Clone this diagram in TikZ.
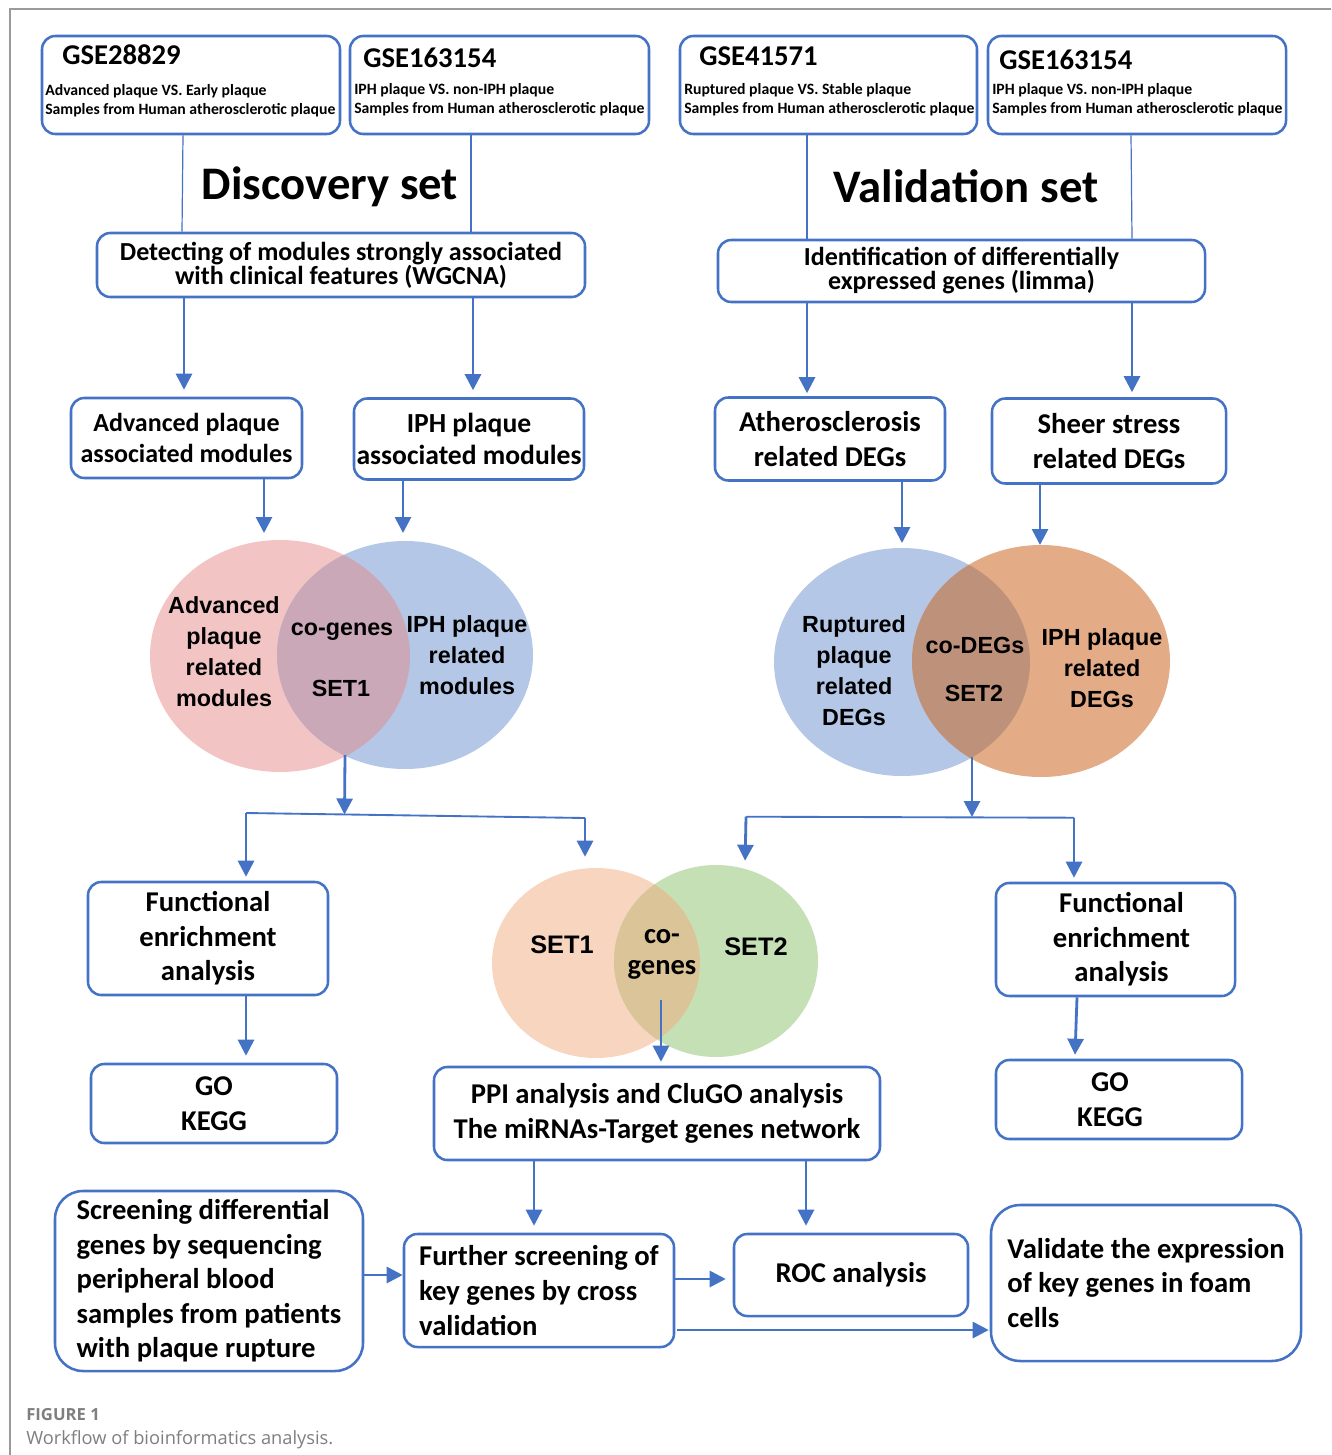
\documentclass[tikz,border=0pt]{standalone}
\usepackage{fontspec}
\setmainfont{Carlito}
\newfontfamily\arialf{Liberation Sans}
\newfontfamily\capf{Open Sans}
\usetikzlibrary{shapes.geometric,arrows.meta,calc}
\newdimen\px \px=0.75pt
\definecolor{bl}{HTML}{4472C4}
\definecolor{framec}{HTML}{9A9A9A}
\definecolor{pinkc}{HTML}{F2C4C4}
\definecolor{bluec}{HTML}{B4C7E7}
\definecolor{ovA}{HTML}{CBA8B7}
\definecolor{orangec}{HTML}{E3AB86}
\definecolor{ovB}{HTML}{BE917B}
\definecolor{peachc}{HTML}{F8D5BF}
\definecolor{greenc}{HTML}{C5E0B4}
\definecolor{ovC}{HTML}{DBC497}
\definecolor{capc}{HTML}{7F7F7F}
\begin{document}
\begin{tikzpicture}[x=0.75pt,y=-0.75pt,
  box/.style={draw=bl, line width=1.9pt, rounded corners=10pt, inner sep=0pt, align=center, fill=white},
  fA/.style={font=\bfseries\fontsize{21.5}{25.9}\selectfont},
  fB/.style={font=\bfseries\fontsize{19.5}{18}\selectfont},
  fC/.style={font=\bfseries\fontsize{19.5}{23.3}\selectfont},
  fGse/.style={font=\bfseries\fontsize{21.5}{24}\selectfont, inner sep=0pt},
  fSm/.style={font=\bfseries\fontsize{11.8}{14}\selectfont, inner sep=0pt},
  fV/.style={font=\arialf\bfseries\fontsize{17.5}{23.3}\selectfont, align=center, inner sep=0pt},
  venn/.style={ellipse, inner sep=0pt},
  arr/.style={draw=bl, line width=2.1pt, -{Triangle[length=12pt,width=12pt]}},
  thinl/.style={draw=bl, line width=0.9pt},
  midl/.style={draw=bl, line width=1.4pt}]
\useasboundingbox (0,0) rectangle (1331,1455);
\fill[white] (0,0) rectangle (1331,1455);
% frame
\draw[framec, line width=1.1pt] (10,1455) -- (10,9) -- (1331,9);

% ---------- top dataset boxes ----------
\node[box, minimum width=298\px, minimum height=98\px] (gse1) at (191,85) {};
\node[box, minimum width=299\px, minimum height=98\px] (gse2) at (499.5,85) {};
\node[box, minimum width=297\px, minimum height=98\px] (gse3) at (828.5,85) {};
\node[box, minimum width=298\px, minimum height=98\px] (gse4) at (1137,85) {};

\node[fGse, anchor=base west] (t1) at (62,65) {GSE28829};
\node[fSm, anchor=base west] (t1a) at (45,96) {Advanced plaque VS. Early plaque};
\node[fSm, anchor=base west] (t1b) at (45,115) {Samples from Human atherosclerotic plaque};
\node[fGse, anchor=base west] (t2) at (363,68) {GSE163154};
\node[fSm, anchor=base west] (t2a) at (354,95) {IPH plaque VS. non-IPH plaque};
\node[fSm, anchor=base west] (t2b) at (354,114) {Samples from Human atherosclerotic plaque};
\node[fGse, anchor=base west] (t3) at (699,66) {GSE41571};
\node[fSm, anchor=base west] (t3a) at (684,95) {Ruptured plaque VS. Stable plaque};
\node[fSm, anchor=base west] (t3b) at (684,114) {Samples from Human atherosclerotic plaque};
\node[fGse, anchor=base west] (t4) at (999,70) {GSE163154};
\node[fSm, anchor=base west] (t4a) at (992,95) {IPH plaque VS. non-IPH plaque};
\node[fSm, anchor=base west] (t4b) at (992,114) {Samples from Human atherosclerotic plaque};

% titles
\node[font=\bfseries\fontsize{35}{40}\selectfont, anchor=base, inner sep=0pt] (disc) at (330,200) {Discovery set};
\node[font=\bfseries\fontsize{35}{40}\selectfont, anchor=base, inner sep=0pt] (vali) at (966,203) {Validation set};

% ---------- analysis boxes ----------
\node[box, fB, minimum width=488\px, minimum height=64\px] (wgcna) at (341,265) {Detecting of modules strongly associated\\with clinical features (WGCNA)};
\node[box, fB, minimum width=487\px, minimum height=62\px] (limma) at (961.5,271) {Identification of differentially\\expressed genes (limma)};

\node[box, fC, minimum width=231\px, minimum height=80\px] (adv) at (186.5,438) {Advanced plaque\\associated modules};
\node[box, font=\bfseries\fontsize{20.7}{24}\selectfont, minimum width=230\px, minimum height=81\px] (iph) at (469,439) {IPH plaque\\associated modules};
\node[box, fA, minimum width=230\px, minimum height=83\px] (ath) at (830,439) {Atherosclerosis\\related DEGs};
\node[box, fA, minimum width=234\px, minimum height=85\px] (sheer) at (1109,441) {Sheer stress\\related DEGs};

% connectors from datasets
\draw[thinl] ($(gse1.south)+(-8,0)$) -- ($(wgcna.north)+(-159,0)$);
\draw[thinl] ($(gse2.south)+(-28.5,0)$) -- ($(wgcna.north)+(130,0)$);
\draw[thinl] ($(gse3.south)+(-21.5,0)$) -- ($(limma.north)+(-154.5,0)$);
\draw[thinl] ($(gse4.south)+(-6,0)$) -- ($(limma.north)+(170.5,0)$);

\draw[arr] ($(wgcna.south)+(-157,0)$) -- ($(adv.north)+(-2.5,-7)$);
\draw[arr] ($(wgcna.south)+(132,0)$) -- ($(iph.north)+(4,-7)$);
\draw[arr] ($(limma.south)+(-154.5,0)$) -- ($(ath.north)+(-23,-3)$);
\draw[arr] ($(limma.south)+(170.5,0)$) -- ($(sheer.north)+(23,-5)$);

% ---------- Venn 1 ----------
\node[venn, fill=pinkc, minimum width=260\px, minimum height=232\px] (pA) at (280,656) {};
\node[venn, fill=bluec, minimum width=256\px, minimum height=228\px] (bA) at (405,655) {};
\begin{scope}
\clip (280,656) ellipse [x radius=130, y radius=116];
\fill[ovA] (405,655) ellipse [x radius=128, y radius=114];
\end{scope}
\node[fV] (vA1) at (224,652) {Advanced\\plaque\\related\\modules};
\node[fV] (vA2) at (342,632) {co-genes};
\node[fV] (vA3) at (341,688) {SET1};
\node[fV] (vA4) at (467,655) {IPH plaque\\related\\modules};

% ---------- Venn 2 ----------
\node[venn, fill=bluec, minimum width=256\px, minimum height=228\px] (bB) at (902,662) {};
\node[venn, fill=orangec, minimum width=258\px, minimum height=232\px] (oB) at (1041,661) {};
\begin{scope}
\clip (902,662) ellipse [x radius=128, y radius=114];
\fill[ovB] (1041,661) ellipse [x radius=129, y radius=116];
\end{scope}
\node[fV] (vB1) at (854,671) {Ruptured\\plaque\\related\\DEGs};
\node[fV] (vB2) at (975,645) {co-DEGs};
\node[fV] (vB3) at (974,693) {SET2};
\node[fV] (vB4) at (1102,668) {IPH plaque\\related\\DEGs};

\draw[arr] ($(adv.south)+(77.5,0)$) -- ($(pA.center)+(-16,-123)$);
\draw[arr] ($(iph.south)+(-66,0)$) -- ($(bA.center)+(-2,-122)$);
\draw[arr] ($(ath.south)+(72,0)$) -- ($(bB.center)+(0,-119)$);
\draw[arr] ($(sheer.south)+(-69,0)$) -- ($(oB.center)+(-1,-116)$);

% ---------- Venn 3 ----------
\node[venn, fill=peachc, minimum width=208\px, minimum height=190\px] (cP) at (596,963) {};
\node[venn, fill=greenc, minimum width=204\px, minimum height=192\px] (cG) at (716,961) {};
\begin{scope}
\clip (596,963) ellipse [x radius=104, y radius=95];
\fill[ovC] (716,961) ellipse [x radius=102, y radius=96];
\end{scope}
\node[fV, font=\arialf\bfseries\fontsize{19}{23}\selectfont] (vC1) at (562,945) {SET1};
\node[fV, font=\arialf\bfseries\fontsize{19}{23}\selectfont] (vC3) at (756,947) {SET2};
\node[font=\bfseries\fontsize{21.4}{25}\selectfont, inner sep=0pt] (vC2a) at (662,937) {co-};
\node[font=\bfseries\fontsize{21.4}{25}\selectfont, inner sep=0pt] (vC2b) at (662,970) {genes};

% ---------- split lines ----------
\coordinate (s1) at (345,755);
\coordinate (j1) at (344.5,814.5);
\coordinate (j1L) at (246,813);
\coordinate (j1R) at (585,818);
\coordinate (s2) at (972,757);
\coordinate (j2) at (972,817);
\coordinate (j2L) at (746,816.7);
\coordinate (j2R) at (1074,817.7);

\node[box, fA, minimum width=240\px, minimum height=113\px] (fea1) at (208,938.5) {Functional\\enrichment\\analysis};
\node[box, fA, minimum width=246\px, minimum height=79\px] (go1) at (214,1103.5) {GO\\KEGG};
\node[box, fA, minimum width=239\px, minimum height=113\px] (fea2) at (1115.5,939.5) {\hspace*{12\px}Functional\\\hspace*{12\px}enrichment\\\hspace*{12\px}analysis};
\node[box, fA, minimum width=246\px, minimum height=79\px] (go2) at (1119,1099.5) {GO\hspace*{18\px}\\KEGG\hspace*{18\px}};
\node[box, font=\bfseries\fontsize{21.5}{26.3}\selectfont, minimum width=446\px, minimum height=93\px] (ppi) at (657,1113.5) {PPI analysis and CluGO analysis\\The miRNAs-Target genes network};

\draw[arr] (s1) -- (j1);
\draw[midl] (j1L) -- (j1R);
\draw[arr, shorten >=4\px] (j1L) -- (j1L |- fea1.north);
\draw[arr, shorten >=11\px] (j1R) -- (j1R |- cP.north);
\draw[arr] (s2) -- (j2);
\draw[midl] (j2L) -- (j2R);
\draw[arr, shorten >=4\px] (j2L) -- ($(cG.north)+(29,0)$);
\draw[arr, shorten >=4\px] (j2R) -- (j2R |- fea2.north);

\coordinate (s3) at (661,1000);
\draw[arr, shorten >=4\px] (s3) -- (s3 |- ppi.north);
\draw[arr] ($(fea1.south)+(38,0)$) -- ($(go1.north)+(32,-7)$);
\draw[arr] ($(fea2.south)+(-38.5,0)$) -- ($(go2.north)+(-44,-4)$);

% ---------- bottom ----------
\node[box, fA, align=left, rounded corners=21pt, minimum width=308\px, minimum height=180\px] (scr) at (209,1281) {Screening differential\\genes by sequencing\\peripheral blood\\samples from patients\\with plaque rupture};
\node[box, fA, align=left, minimum width=270\px, minimum height=113\px] (fur) at (539,1290.5) {Further screening of\\key genes by cross\\validation};
\node[box, fA, minimum width=234\px, minimum height=82\px] (roc) at (851,1275) {ROC analysis};
\node[box, fA, align=left, rounded corners=22pt, minimum width=310\px, minimum height=156\px] (val) at (1146,1283) {Validate the expression\\of key genes in foam\\cells};

\draw[arr] ($(ppi.south)+(-123,0)$) -- ($(fur.north)+(-5,-7)$);
\draw[arr] ($(ppi.south)+(149,0)$) -- ($(roc.north)+(-45,-7)$);
\draw[arr] ($(scr.east)+(0,-6)$) -- ($(fur.west)+(0,-15.5)$);
\draw[arr] ($(fur.east)+(0,-11.5)$) -- ($(roc.west)+(-7,4)$);
\draw[arr] ($(fur.east)+(2,39.5)$) -- ($(val.west)+(-1,47)$);

% ---------- caption ----------
\node[anchor=base west, inner sep=0pt, text=capc, font=\capf\bfseries\fontsize{12.5}{14}\selectfont] (capA) at (26,1420) {FIGURE 1};
\node[anchor=base west, inner sep=0pt, text=capc, font=\capf\fontsize{13.7}{16}\selectfont] (capB) at (26,1444) {Workflow of bioinformatics analysis.};
\end{tikzpicture}
\end{document}
